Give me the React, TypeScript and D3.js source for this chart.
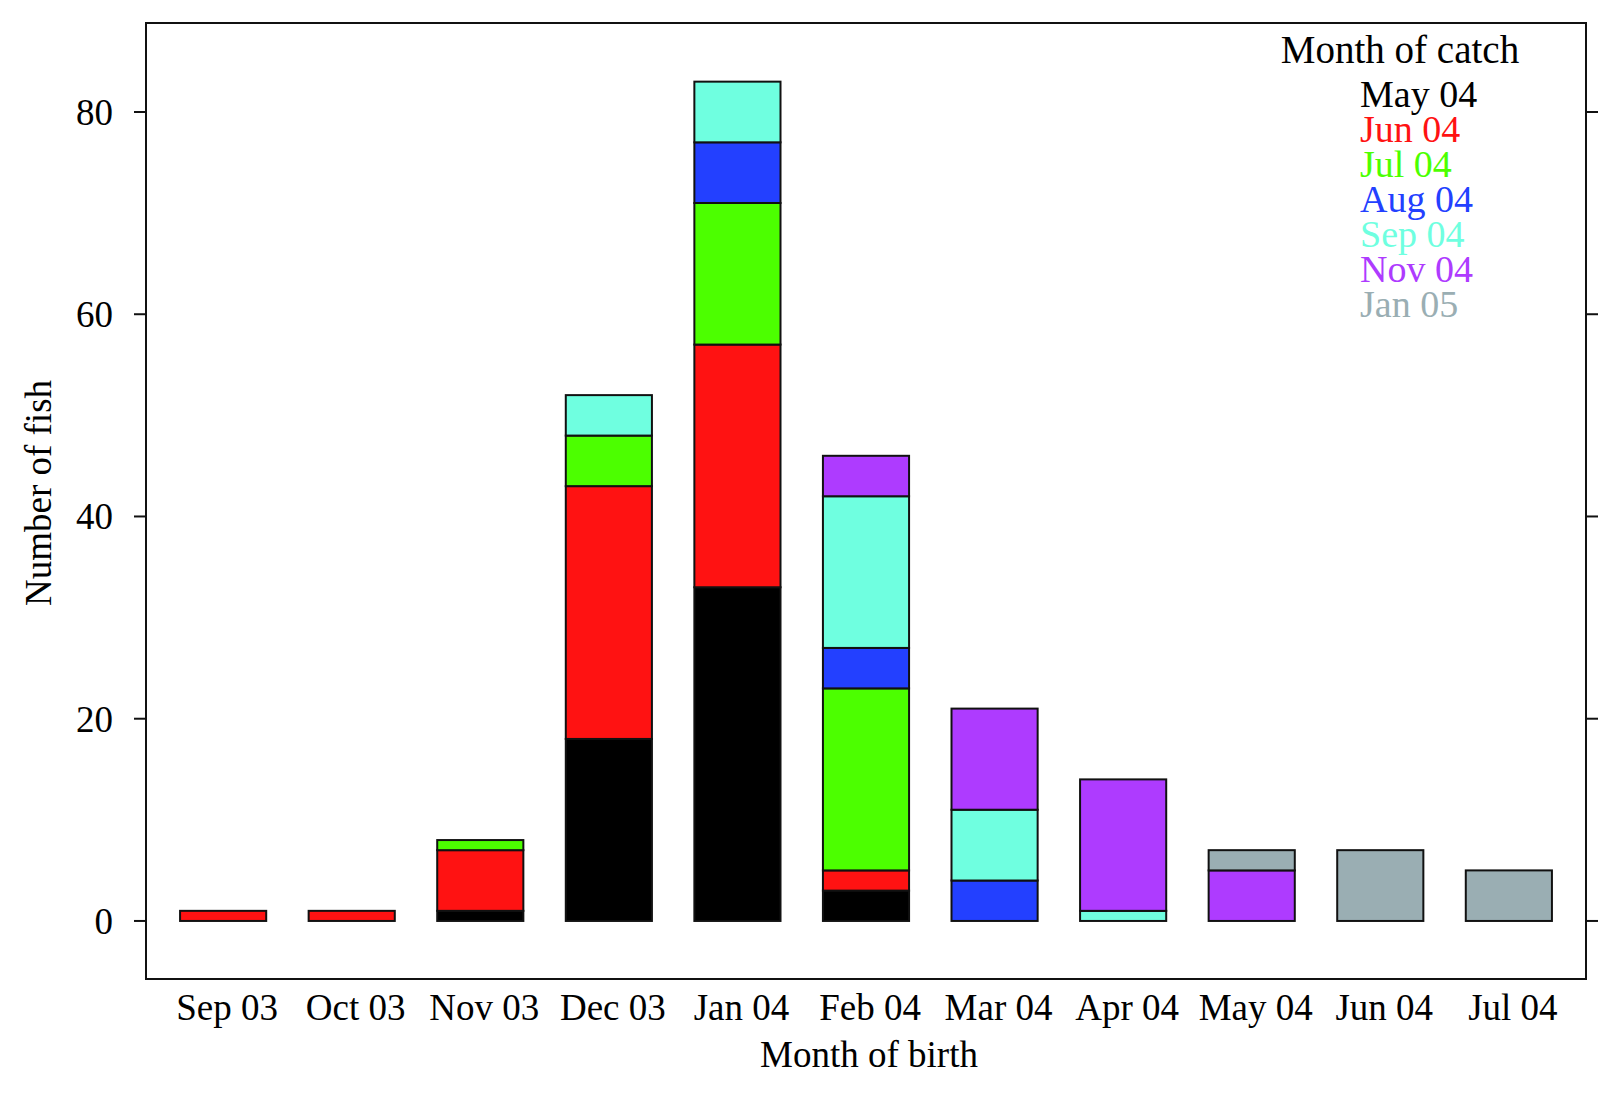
import * as d3 from 'd3'

const birthMonths = ['Sep 03', 'Oct 03', 'Nov 03', 'Dec 03', 'Jan 04', 'Feb 04', 'Mar 04', 'Apr 04', 'May 04', 'Jun 04', 'Jul 04']
const catchMonths = ['May 04', 'Jun 04', 'Jul 04', 'Aug 04', 'Sep 04', 'Nov 04', 'Jan 05']
const catchColors = ['#000000', '#ff1212', '#4cff00', '#2340ff', '#6fffe0', '#ae3bff', '#9aaeb3']

// fish counts per birth month, one array per catch month
const may04 = [0, 0, 1, 18, 33, 3, 0, 0, 0, 0, 0]
const jun04 = [1, 1, 6, 25, 24, 2, 0, 0, 0, 0, 0]
const jul04 = [0, 0, 1, 5, 14, 18, 0, 0, 0, 0, 0]
const aug04 = [0, 0, 0, 0, 6, 4, 4, 0, 0, 0, 0]
const sep04 = [0, 0, 0, 4, 6, 15, 7, 1, 0, 0, 0]
const nov04 = [0, 0, 0, 0, 0, 4, 10, 13, 5, 0, 0]
const jan05 = [0, 0, 0, 0, 0, 0, 0, 0, 2, 7, 5]

const yTicks = [0, 20, 40, 60, 80]

const W = 1622
const H = 1098
const BOX = { left: 146, right: 1586, top: 23, bottom: 979 }
const FONT = '"Liberation Serif", "Times New Roman", serif'
const FS = 37

const series = [may04, jun04, jul04, aug04, sep04, nov04, jan05]
const rows = birthMonths.map((m, i) => {
  const r: Record<string, number | string> = { month: m }
  catchMonths.forEach((c, k) => (r[c] = series[k][i]))
  return r
})

export default function App() {
  const x = d3.scaleBand<string>()
    .domain(birthMonths)
    .range([BOX.left, BOX.right])
    .paddingInner(0.33)
    .paddingOuter(0.265)
  const y = d3.scaleLinear().domain([-5.74, 88.8]).range([BOX.bottom, BOX.top])

  const stacked = d3.stack<Record<string, number | string>>()
    .keys(catchMonths)
    .value((d, k) => d[k] as number)(rows)

  return (
    <div style={{ position: 'fixed', left: 0, top: 0, background: '#fff' }}>
      <svg width={W} height={H} style={{ display: 'block' }} fontFamily={FONT}>
        <rect width={W} height={H} fill="#fff" />

        {/* bars */}
        {stacked.map((layer, k) => (
          <g key={layer.key} fill={catchColors[k]}>
            {layer.map((seg, i) =>
              seg[1] - seg[0] > 0 ? (
                <rect
                  key={i}
                  x={x(birthMonths[i])}
                  width={x.bandwidth()}
                  y={y(seg[1])}
                  height={y(seg[0]) - y(seg[1])}
                  stroke="#111"
                  strokeWidth={2}
                />
              ) : null
            )}
          </g>
        ))}

        {/* box */}
        <rect
          x={BOX.left}
          y={BOX.top}
          width={BOX.right - BOX.left}
          height={BOX.bottom - BOX.top}
          fill="none"
          stroke="#111"
          strokeWidth={2}
        />

        {/* y ticks, left with labels and right without */}
        {yTicks.map((t) => (
          <g key={t}>
            <line x1={BOX.left - 12} x2={BOX.left} y1={y(t)} y2={y(t)} stroke="#111" strokeWidth={2} />
            <line x1={BOX.right} x2={BOX.right + 12} y1={y(t)} y2={y(t)} stroke="#111" strokeWidth={2} />
            <text x={113} y={y(t)} dy="0.35em" textAnchor="end" fontSize={FS}>{t}</text>
          </g>
        ))}

        {/* x labels */}
        {birthMonths.map((m) => (
          <text key={m} x={(x(m) ?? 0) + x.bandwidth() / 2 + 4} y={1020} textAnchor="middle" fontSize={FS}>{m}</text>
        ))}

        <text x={(BOX.left + BOX.right) / 2 + 3} y={1067} textAnchor="middle" fontSize={FS}>Month of birth</text>
        <text transform={`translate(51,${(BOX.top + BOX.bottom) / 2 - 8}) rotate(-90)`} textAnchor="middle" fontSize={FS}>Number of fish</text>

        {/* legend */}
        <text x={1400} y={63} textAnchor="middle" fontSize={39}>Month of catch</text>
        {catchMonths.map((c, k) => (
          <text key={c} x={1360} y={107 + k * 35} fill={catchColors[k]} fontSize={38}>{c}</text>
        ))}
      </svg>
    </div>
  )
}
